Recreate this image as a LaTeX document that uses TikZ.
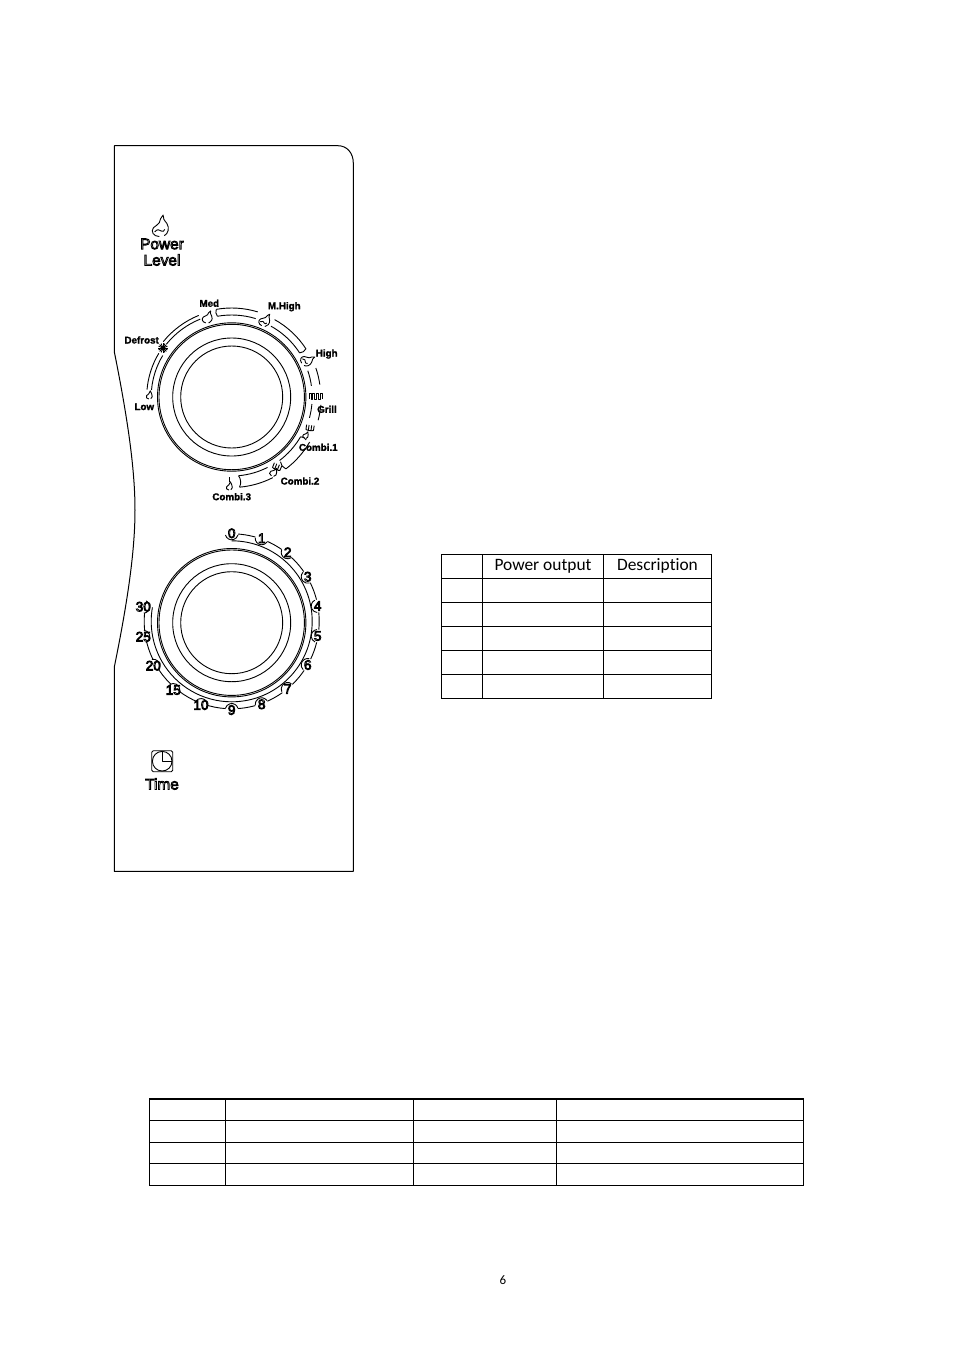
\documentclass[tikz,border=0pt]{standalone}
\usepackage{fontspec}
\usetikzlibrary{calc}
\setmainfont{Carlito}[Ligatures=NoCommon]
\newfontfamily\lb{Liberation Sans}[BoldFeatures={FakeBold=1.7}]
\newcommand\smalllab{\lb\bfseries\fontsize{9.8}{10}\selectfont}
\newcommand\biglab{\lb\fontsize{15.4}{15}\selectfont}
\newcommand\diglab{\lb\fontsize{13.6}{13}\selectfont}
\newcommand\outl[1]{\special{pdf:code 1 Tr 0.8 w}#1\special{pdf:code 0 Tr 1 w}}
\tikzset{
  x=1pt,y=1pt,
  ln/.style={draw=black,line width=0.9pt,line join=round},
  tb/.style={draw=black,line width=1pt},
  tbthick/.style={draw=black,line width=1.9pt},
  slabel/.style={inner sep=0pt,font=\smalllab,text=black},
  blabel/.style={inner sep=0pt,font=\biglab,text=black},
  dlabel/.style={inner sep=0pt,font=\diglab,text=black},
  hlabel/.style={inner sep=0pt,font=\fontsize{17.4}{18}\selectfont,text=black},
}
% centre, a1, a2, rin, rout : two open arcs
\newcommand\bandopen[5]{\draw[ln,shift={(#1)}] (#2:#5) arc[start angle=#2,end angle=#3,radius=#5] (#2:#4) arc[start angle=#2,end angle=#3,radius=#4];}
% centre, angle, rin, rout, bend side
\newcommand\bandcap[5]{\draw[ln,shift={(#1)}] (#2:#3) to[bend #5=28] (#2:#4);}
\newcommand\rings[1]{\foreach \r in {51,59,72.7,74.2}{\draw[ln] (#1) circle[radius=\r];}}
% position, scale, rotation
\newcommand\flamesym[3]{\draw[ln,shift={(#1)},rotate=#3,scale=#2] (-0.8,-5) .. controls (-3.6,-5) and (-5,-2.6) .. (-3.6,-0.8) .. controls (-2.8,0.2) and (-1.6,0.2) .. (-0.8,1.6) .. controls (-0.6,2.8) and (0,4.2) .. (1,5.2) .. controls (0.8,3.6) and (1.6,2.8) .. (2.8,1.2) .. controls (4.2,-1) and (3.4,-3.6) .. (1.6,-4.6);}
\newcommand\swirl[3]{\draw[ln,shift={(#1)},rotate=#3,scale=#2] (-3,-2.8) .. controls (-1.8,-1.4) and (-0.8,-1.6) .. (0.2,-2.4) .. controls (0.8,-3) and (1.4,-2.4) .. (1.8,-1.6);}
\newcommand\grillsym[3]{\draw[ln,shift={(#1)},rotate=#3,xscale=#2] (-7,-3) -- (-7,2.6) -- (-5,2.6) -- (-5,-3) -- (-3.4,-3) -- (-3.4,2.6) -- (-1.4,2.6) -- (-1.4,-3) -- (0.4,-3) -- (0.4,2.6) -- (2.4,2.6) -- (2.4,-3) -- (4,-3) -- (4,2.6) -- (6,2.6) -- (6,-3);}
\newcommand\combsym[3]{\draw[ln,shift={(#1)},rotate=#3,scale=#2] (-4,3) -- (-4,-2) .. controls (-4,-3) and (4,-3) .. (4,-2) -- (4,3) (-1.4,3) -- (-1.4,-2.6) (1.4,3) -- (1.4,-2.6);}
\newcommand\dialdigit[5]{%
  \fill[white] (#2,-#3) circle[radius=6.5];
  \draw[ln,shift={(#2,-#3)}] (#4+180-75:6.5) arc[start angle=#4+180-75,end angle=#4+180+75,radius=6.5];
  \node[dlabel] (#1) at (#2,-#3) {\outl{#5}};}
\begin{document}
\begin{tikzpicture}
\useasboundingbox[fill=white] (0,0) rectangle (954,-1350);
\coordinate (dialA) at (231.7,-397);
\coordinate (dialB) at (231.7,-622.7);
\coordinate (bandB) at (231.7,-621.3);
% panel
\draw[ln,line width=1pt] (114.3,-145.7) -- (338,-145.7) .. controls (347,-145.7) and (353.3,-153) .. (353.3,-163)
  -- (353.3,-871.3) -- (114.3,-871.3) -- (114.3,-667)
  .. controls (128,-600) and (135,-550) .. (135,-510)
  .. controls (135,-470) and (128,-420) .. (114.3,-351.7) -- cycle;
% Power level
\flamesym{161,-226}{2.1}{0}
\swirl{161,-226}{2.1}{0}
\node[blabel] (power) at (162,-244) {\outl{Power}};
\node[blabel] (level) at (162,-260) {\outl{Level}};
% dial A
\rings{dialA}
\bandopen{dialA}{175}{149}{80.5}{85}
\bandopen{dialA}{141}{112}{84}{88}
\bandopen{dialA}{100}{73}{82}{89}
\bandcap{dialA}{100}{82}{89}{left}
\bandopen{dialA}{61}{33}{81}{88.5}
\bandcap{dialA}{33}{81}{88.5}{right}
\bandopen{dialA}{19}{8}{80.5}{89}
\bandopen{dialA}{-5}{-15}{80.5}{89.5}
\bandopen{dialA}{-30}{-53}{79.5}{90}
\bandcap{dialA}{-30}{79.5}{86}{left}
\bandcap{dialA}{-53}{81}{90}{right}
\bandopen{dialA}{-63}{-85}{79}{90.5}
\bandcap{dialA}{-85}{79}{90.5}{left}
\flamesym{149.5,-395}{0.8}{0}
\foreach \a in {0,22.5,...,157.5}{\draw[black,line width=0.8pt] ($(163,-348)+(\a:4.8)$) -- ($(163,-348)+(\a+180:4.8)$);}
\fill[black] (163,-348) circle[radius=2.2];
\flamesym{208,-317}{1.25}{-12}
\flamesym{265.5,-320}{1.35}{-25}
\swirl{265.5,-320}{1.35}{-25}
\flamesym{308,-360}{1.4}{-55}
\swirl{308,-360}{1.4}{-55}
\grillsym{316,-396}{1}{0}
\combsym{310,-428}{0.95}{-8}
\flamesym{306,-435}{0.7}{-20}
\combsym{277,-467}{1}{-22}
\flamesym{274,-472}{0.9}{-25}
\flamesym{229.6,-486}{0.8}{0}
\draw[ln] (229.6,-482) -- (229.6,-477);
\node[slabel] (med) at (209.3,-303.3) {Med};
\node[slabel] (mhigh) at (284.3,-306.7) {M.High};
\node[slabel] (high) at (326.7,-354) {High};
\node[slabel] (grill) at (327,-409.3) {Grill};
\node[slabel] (combione) at (318.3,-447.3) {Combi.1};
\node[slabel] (combitwo) at (300,-481) {Combi.2};
\node[slabel] (combithree) at (231.7,-496.7) {Combi.3};
\node[slabel] (defrost) at (141.7,-340) {Defrost};
\node[slabel] (low) at (144.3,-406.7) {Low};
% dial B
\rings{dialB}
\draw[ln,shift={(bandB)}] (90:87.5) arc[start angle=90,end angle=-190,radius=87.5];
\draw[ln,shift={(bandB)}] (90:80.5) arc[start angle=90,end angle=-190,radius=80.5];
\dialdigit{dzero}{231.7}{533.3}{90}{0}
\dialdigit{done}{261.7}{538.3}{70.4}{1}
\dialdigit{dtwo}{287.7}{552.3}{51.5}{2}
\dialdigit{dthree}{307.7}{576.7}{31.2}{3}
\dialdigit{dfour}{317.7}{606}{11}{4}
\dialdigit{dfive}{317.7}{636}{-8.8}{5}
\dialdigit{dsix}{307.7}{665}{-29}{6}
\dialdigit{dseven}{287.7}{689}{-49.8}{7}
\dialdigit{deight}{261.7}{704.3}{-69.8}{8}
\dialdigit{dnine}{231.7}{710}{-90}{9}
\dialdigit{dten}{201}{705}{-110.5}{10}
\dialdigit{dfifteen}{173.3}{690}{-131}{15}
\dialdigit{dtwenty}{153.3}{665.7}{-151.3}{20}
\dialdigit{dtwentyfive}{143.3}{636.7}{-171}{25}
\dialdigit{dthirty}{143.3}{606.7}{169.7}{30}
% Time
\draw[ln,rounded corners=1.5pt] (151.7,-750.7) rectangle (172.7,-771.7);
\coordinate (clock) at (162.2,-761.2);
\draw[ln] (clock) circle[radius=9.8];
\draw[ln] (162.2,-751.4) -- (clock) -- (172,-761.2);
\node[blabel] (time) at (162,-784) {\outl{Time}};
% table 1
\foreach \y in {554.5,578.5,602.5,626.5,650.5,674.5,698.5}{\draw[tb] (441.3,-\y) -- (711.5,-\y);}
\foreach \x in {441.5,482.5,603.5,711.5}{\draw[tb] (\x,-554) -- (\x,-699);}
\node[hlabel] (powerout) at (543,-566) {Power output};
\node[hlabel] (descr) at (657.5,-566) {Description};
% table 2
\foreach \y in {1120.5,1142.5,1185.5}{\draw[tb] (149,-\y) -- (804,-\y);}
\foreach \y in {1099.3,1163.5}{\draw[tbthick] (149,-\y) -- (804,-\y);}
\foreach \x in {149.5,225.5,413.5,556.5,803.5}{\draw[tb] (\x,-1099) -- (\x,-1186);}
\node[inner sep=0pt,font=\fontsize{13}{13}\selectfont] (pagenum) at (503,-1280) {6};
\end{tikzpicture}
\end{document}
